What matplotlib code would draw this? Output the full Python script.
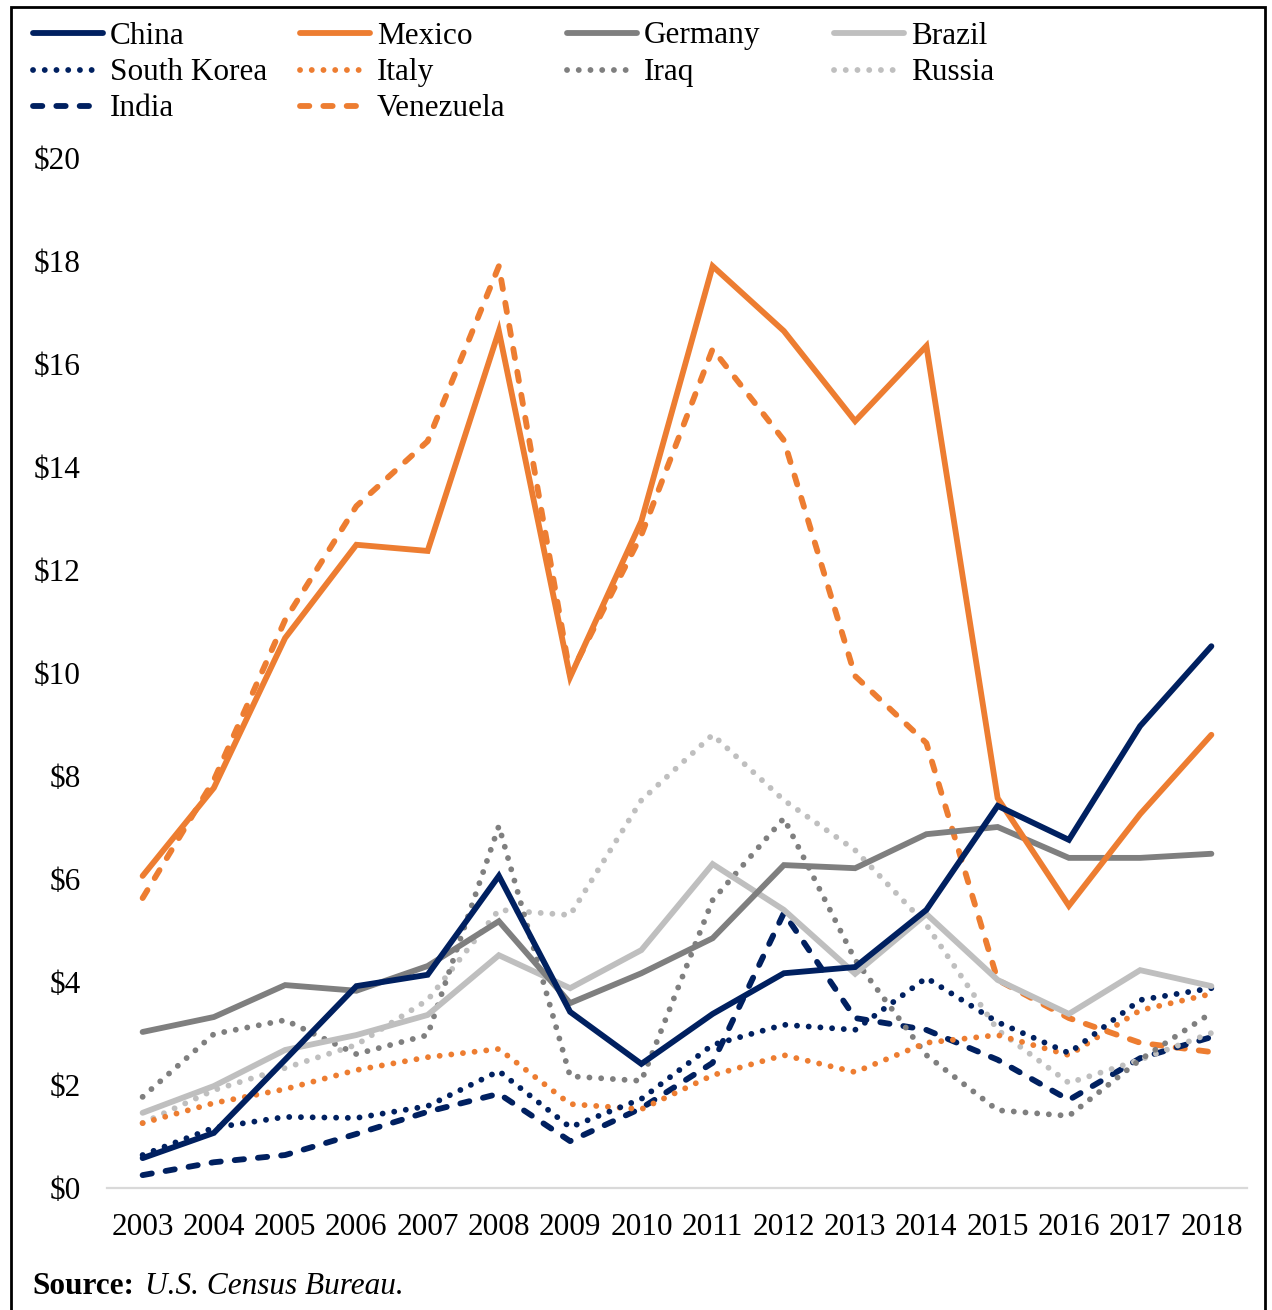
import matplotlib.pyplot as plt
from matplotlib.lines import Line2D
from matplotlib.patches import Rectangle

plt.rcParams['font.family'] = ['Liberation Serif', 'DejaVu Serif']

years = list(range(2003, 2019))

# billions of dollars
china = [0.58, 1.07, 2.49, 3.92, 4.14, 6.06, 3.42, 2.41, 3.38, 4.17, 4.29, 5.40, 7.42, 6.76, 8.97, 10.52]
mexico = [6.06, 7.77, 10.68, 12.49, 12.37, 16.64, 9.92, 12.95, 17.90, 16.64, 14.89, 16.35, 7.57, 5.48, 7.26, 8.80]
germany = [3.03, 3.32, 3.94, 3.83, 4.31, 5.18, 3.59, 4.17, 4.85, 6.27, 6.21, 6.87, 7.01, 6.41, 6.41, 6.49]
brazil = [1.46, 1.98, 2.68, 2.97, 3.36, 4.52, 3.88, 4.62, 6.29, 5.40, 4.16, 5.32, 4.04, 3.38, 4.23, 3.92]
south_korea = [0.64, 1.17, 1.38, 1.36, 1.59, 2.27, 1.18, 1.73, 2.78, 3.17, 3.07, 4.08, 3.22, 2.62, 3.65, 3.88]
italy = [1.26, 1.65, 1.92, 2.29, 2.54, 2.70, 1.63, 1.53, 2.19, 2.58, 2.25, 2.82, 2.97, 2.58, 3.45, 3.77]
iraq = [1.77, 2.99, 3.26, 2.60, 2.97, 7.03, 2.17, 2.08, 5.59, 7.18, 4.43, 2.58, 1.51, 1.40, 2.49, 3.40]
russia = [1.26, 1.90, 2.33, 2.78, 3.65, 5.40, 5.30, 7.53, 8.80, 7.53, 6.56, 5.11, 3.07, 2.04, 2.49, 3.01]
india = [0.25, 0.50, 0.64, 1.05, 1.48, 1.83, 0.91, 1.55, 2.43, 5.34, 3.30, 3.07, 2.49, 1.71, 2.52, 2.93]
venezuela = [5.63, 7.92, 11.03, 13.24, 14.50, 17.90, 9.96, 12.68, 16.29, 14.52, 9.94, 8.64, 4.04, 3.30, 2.82, 2.64]

names = ['China', 'Mexico', 'Germany', 'Brazil',
         'South Korea', 'Italy', 'Iraq', 'Russia',
         'India', 'Venezuela']
values = [china, mexico, germany, brazil,
          south_korea, italy, iraq, russia,
          india, venezuela]

navy = '#002060'
orange = '#ED7D31'
gray = '#7F7F7F'
light = '#BFBFBF'
colors = [navy, orange, gray, light,
          navy, orange, gray, light,
          navy, orange]
solid = None
dotted = (0.01, 2.0)
dashed = (1.6, 2.4)
patterns = [solid, solid, solid, solid,
            dotted, dotted, dotted, dotted,
            dashed, dashed]

W, H = 1272, 1310
fig = plt.figure(figsize=(W / 100, H / 100), dpi=100)
ax = fig.add_axes([107 / W, 1 - 1188 / H, 1140 / W, 1030 / H])


def line_kw(color, pattern):
    kw = dict(color=color, lw=4.2, solid_capstyle='round',
              dash_capstyle='round', solid_joinstyle='miter')
    if pattern is not None:
        kw['dashes'] = pattern
    return kw


# draw back to front so the first series sit on top
for name, vals, c, p in reversed(list(zip(names, values, colors, patterns))):
    ax.plot(years, vals, **line_kw(c, p))

ax.set_xlim(2002.5, 2018.5)
ax.set_ylim(0, 20)
ax.set_xticks(years)
ax.set_xticklabels([str(y) for y in years])
ax.set_yticks(range(0, 21, 2))
ax.set_yticklabels([r'\$%d' % v for v in range(0, 21, 2)])
ax.tick_params(axis='both', length=0, labelsize=22.5, colors='black')
ax.tick_params(axis='x', pad=18)
ax.tick_params(axis='y', pad=19)
for side in ['top', 'right', 'left']:
    ax.spines[side].set_visible(False)
ax.spines['bottom'].set_color('#D9D9D9')
ax.spines['bottom'].set_linewidth(1.6)

# legend laid out in four even columns
for i, (name, c, p) in enumerate(zip(names, colors, patterns)):
    row, col = divmod(i, 4)
    x0 = 33 + col * 267
    y = 1 - (33 + row * 36.5) / H
    fig.add_artist(Line2D([x0 / W, (x0 + 70) / W], [y, y],
                          transform=fig.transFigure, **line_kw(c, p)))
    fig.text((x0 + 77) / W, y - 3 / H, name, fontsize=22.5, va='center', ha='left')

fig.text(32 / W, 1 - 1287 / H, 'Source:', fontsize=22.5, weight='bold', va='center')
fig.text(145 / W, 1 - 1287 / H, 'U.S. Census Bureau.', fontsize=22.5, style='italic', va='center')

# outer frame, open at the bottom
fig.add_artist(Rectangle((11 / W, -0.02), 1254 / W, 1 - 7 / H + 0.02,
                         transform=fig.transFigure, fill=False,
                         lw=2, edgecolor='black', clip_on=False))

plt.savefig('out.png', dpi=100)
plt.close()
